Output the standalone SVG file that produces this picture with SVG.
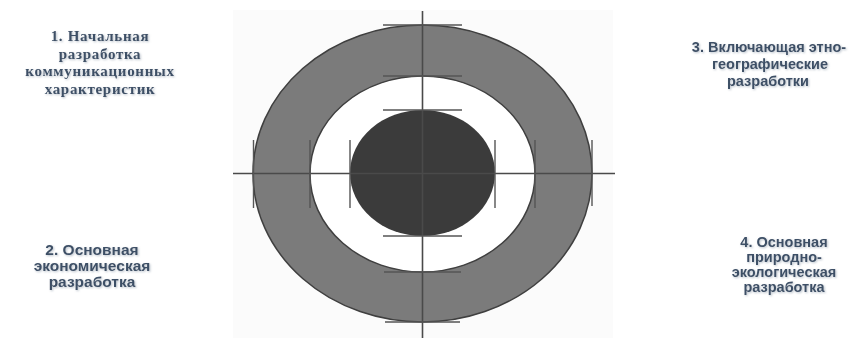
<svg xmlns="http://www.w3.org/2000/svg" width="864" height="338" viewBox="0 0 864 338">
  <defs>
    <filter id="sh" x="-10%" y="-10%" width="120%" height="130%">
      <feDropShadow dx="1" dy="1" stdDeviation="0.8" flood-color="#9aa6b4" flood-opacity="0.7"/>
    </filter>
  </defs>
  <style>
    .lbl { font-family: "Liberation Sans", Arial, sans-serif; font-weight: bold; fill: #3d4f66; text-anchor: middle; filter: url(#sh); }
    .serif { font-family: "Liberation Serif", "Times New Roman", serif; letter-spacing: 0.7px; }
    .ax { stroke: #4a4a4a; stroke-width: 1.6; fill: none; }
    .tick { stroke: #555; stroke-width: 1.4; fill: none; }
  </style>
  <rect x="0" y="0" width="864" height="338" fill="#ffffff"/>
  <rect x="233" y="10" width="380" height="328" fill="#fbfbfb"/>

  <g id="outer-ring">
    <ellipse cx="422.5" cy="173.5" rx="169.5" ry="148.5" fill="#7b7b7b" stroke="#3f3f3f" stroke-width="1.5"/>
  </g>
  <g id="inner-ring">
    <ellipse cx="422.5" cy="174" rx="112.5" ry="98" fill="#ffffff" stroke="#3f3f3f" stroke-width="1.5"/>
  </g>
  <g id="core">
    <ellipse cx="422.5" cy="173" rx="72.5" ry="63" fill="#3b3b3b"/>
  </g>

  <g id="connectors">
    <line class="ax" x1="422.5" y1="11" x2="422.5" y2="338"/>
    <line class="ax" x1="233" y1="173.5" x2="615" y2="173.5"/>
    <line class="tick" x1="383" y1="25" x2="462" y2="25"/>
    <line class="tick" x1="383" y1="76" x2="462" y2="76"/>
    <line class="tick" x1="383" y1="110" x2="462" y2="110"/>
    <line class="tick" x1="383" y1="236" x2="462" y2="236"/>
    <line class="tick" x1="384" y1="272" x2="461" y2="272"/>
    <line class="tick" x1="385" y1="322" x2="460" y2="322"/>
    <line class="tick" x1="253.5" y1="140" x2="253.5" y2="208"/>
    <line class="tick" x1="310" y1="140" x2="310" y2="208"/>
    <line class="tick" x1="350" y1="140" x2="350" y2="208"/>
    <line class="tick" x1="495" y1="140" x2="495" y2="208"/>
    <line class="tick" x1="535" y1="140" x2="535" y2="208"/>
    <line class="tick" x1="592" y1="140" x2="592" y2="206"/>
  </g>

  <g id="label-1">
    <text class="lbl serif" font-size="15" x="100" y="41">1. Начальная</text>
    <text class="lbl serif" font-size="15" x="100" y="58.5">разработка</text>
    <text class="lbl serif" font-size="15" x="100" y="76">коммуникационных</text>
    <text class="lbl serif" font-size="15" x="100" y="93.5">характеристик</text>
  </g>
  <g id="label-2">
    <text class="lbl" font-size="15.5" x="92" y="255">2. Основная</text>
    <text class="lbl" font-size="15.5" x="92" y="271">экономическая</text>
    <text class="lbl" font-size="15.5" x="92" y="287">разработка</text>
  </g>
  <g id="label-3">
    <text class="lbl" font-size="14.5" x="769" y="52">3. Включающая этно-</text>
    <text class="lbl" font-size="14.5" x="770" y="69">географические</text>
    <text class="lbl" font-size="14.5" x="768" y="86">разработки</text>
  </g>
  <g id="label-4">
    <text class="lbl" font-size="14.5" x="784" y="247">4. Основная</text>
    <text class="lbl" font-size="14.5" x="784" y="262">природно-</text>
    <text class="lbl" font-size="14.5" x="784" y="277">экологическая</text>
    <text class="lbl" font-size="14.5" x="784" y="292">разработка</text>
  </g>
</svg>
